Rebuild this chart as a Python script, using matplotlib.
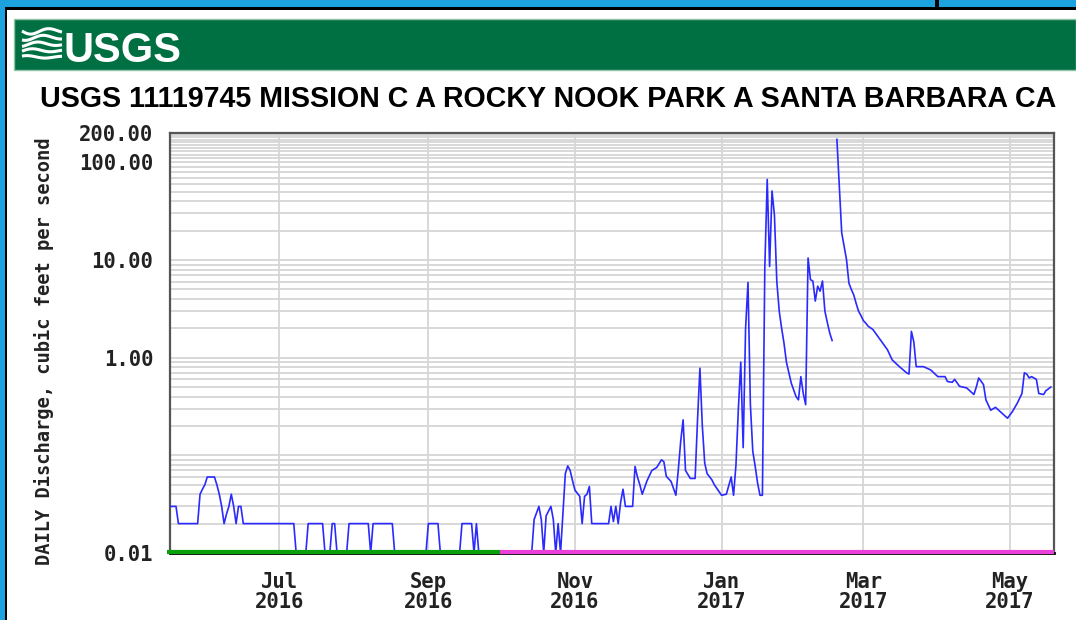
import numpy as np
import pandas as pd
import matplotlib
matplotlib.use('Agg')
import matplotlib.pyplot as plt
import matplotlib.dates as mdates
from matplotlib.ticker import FixedLocator, NullFormatter, FuncFormatter
from matplotlib.patches import Rectangle
from matplotlib.font_manager import FontProperties

# daily discharge (cfs) read off the hydrograph; 0.01 = no flow (plot floor)
wy2016_dates = ['2016-05-16', '2016-05-19', '2016-05-20', '2016-05-28', '2016-05-29', '2016-05-30', '2016-05-31',
                '2016-06-01', '2016-06-04', '2016-06-05', '2016-06-06', '2016-06-07', '2016-06-08', '2016-06-09',
                '2016-06-10', '2016-06-11', '2016-06-12', '2016-06-13', '2016-06-14', '2016-06-15', '2016-06-16',
                '2016-07-07', '2016-07-08', '2016-07-12', '2016-07-13', '2016-07-19', '2016-07-20', '2016-07-22',
                '2016-07-23', '2016-07-24', '2016-07-25', '2016-07-29', '2016-07-30',
                '2016-08-07', '2016-08-08', '2016-08-09', '2016-08-17', '2016-08-18', '2016-08-31',
                '2016-09-01', '2016-09-05', '2016-09-06', '2016-09-14', '2016-09-15', '2016-09-19', '2016-09-20',
                '2016-09-21', '2016-09-22', '2016-09-30']
wy2016_cfs = [0.03, 0.03, 0.02, 0.02, 0.04, 0.045, 0.05,
              0.06, 0.06, 0.05, 0.04, 0.03, 0.02, 0.025,
              0.03, 0.04, 0.03, 0.02, 0.03, 0.03, 0.02,
              0.02, 0.01, 0.01, 0.02, 0.02, 0.01, 0.01,
              0.02, 0.02, 0.01, 0.01, 0.02,
              0.02, 0.01, 0.02, 0.02, 0.01, 0.01,
              0.02, 0.02, 0.01, 0.01, 0.02, 0.02, 0.01,
              0.02, 0.01, 0.01]

wy2017_dates = ['2016-10-01', '2016-10-14', '2016-10-15', '2016-10-17', '2016-10-18', '2016-10-19', '2016-10-20',
                '2016-10-22', '2016-10-23', '2016-10-24', '2016-10-25', '2016-10-26', '2016-10-27', '2016-10-28',
                '2016-10-29', '2016-10-30', '2016-10-31',
                '2016-11-01', '2016-11-03', '2016-11-04', '2016-11-05', '2016-11-06', '2016-11-07', '2016-11-08',
                '2016-11-15', '2016-11-16', '2016-11-17', '2016-11-18', '2016-11-19', '2016-11-20', '2016-11-21',
                '2016-11-22', '2016-11-25', '2016-11-26', '2016-11-27', '2016-11-28', '2016-11-29',
                '2016-12-01', '2016-12-03', '2016-12-05', '2016-12-07', '2016-12-08', '2016-12-09', '2016-12-11',
                '2016-12-13', '2016-12-14', '2016-12-15', '2016-12-16', '2016-12-17', '2016-12-19', '2016-12-21',
                '2016-12-22', '2016-12-23', '2016-12-24', '2016-12-25', '2016-12-26', '2016-12-28', '2016-12-29',
                '2017-01-01', '2017-01-03', '2017-01-05', '2017-01-06', '2017-01-07', '2017-01-08', '2017-01-09',
                '2017-01-10', '2017-01-11', '2017-01-12', '2017-01-13', '2017-01-14', '2017-01-15', '2017-01-16',
                '2017-01-17', '2017-01-18', '2017-01-19', '2017-01-20', '2017-01-21', '2017-01-22', '2017-01-23',
                '2017-01-24', '2017-01-25', '2017-01-26', '2017-01-27', '2017-01-28', '2017-01-29', '2017-01-30',
                '2017-01-31',
                '2017-02-01', '2017-02-02', '2017-02-03', '2017-02-04', '2017-02-05', '2017-02-06', '2017-02-07',
                '2017-02-08', '2017-02-09', '2017-02-10', '2017-02-11', '2017-02-12', '2017-02-13', '2017-02-14',
                '2017-02-15', '2017-02-16', '2017-02-17', '2017-02-18', '2017-02-19', '2017-02-20', '2017-02-21',
                '2017-02-22', '2017-02-23', '2017-02-24', '2017-02-25', '2017-02-26', '2017-02-27', '2017-02-28',
                '2017-03-01', '2017-03-02', '2017-03-03', '2017-03-05', '2017-03-08', '2017-03-11', '2017-03-13',
                '2017-03-16', '2017-03-19', '2017-03-20', '2017-03-21', '2017-03-22', '2017-03-23', '2017-03-26',
                '2017-03-29',
                '2017-04-01', '2017-04-04', '2017-04-05', '2017-04-07', '2017-04-08', '2017-04-10', '2017-04-13',
                '2017-04-16', '2017-04-17', '2017-04-18', '2017-04-20', '2017-04-21', '2017-04-23', '2017-04-25',
                '2017-04-27', '2017-04-30',
                '2017-05-02', '2017-05-04', '2017-05-06', '2017-05-07', '2017-05-08', '2017-05-09', '2017-05-10',
                '2017-05-12', '2017-05-13', '2017-05-15', '2017-05-16', '2017-05-18']
wy2017_cfs = [0.01, 0.01, 0.022, 0.03, 0.022, 0.01, 0.024,
              0.03, 0.022, 0.01, 0.02, 0.01, 0.025, 0.065,
              0.078, 0.07, 0.055,
              0.044, 0.038, 0.02, 0.038, 0.04, 0.048, 0.02,
              0.02, 0.03, 0.021, 0.03, 0.02, 0.033, 0.045,
              0.03, 0.03, 0.077, 0.06, 0.05, 0.04,
              0.055, 0.07, 0.075, 0.09, 0.086, 0.061, 0.054,
              0.039, 0.071, 0.139, 0.231, 0.07, 0.058, 0.058,
              0.23, 0.78, 0.2, 0.083, 0.065, 0.056, 0.05,
              0.039, 0.04, 0.06, 0.039, 0.08, 0.3, 0.9,
              0.12, 2.0, 5.9, 0.33, 0.11, 0.077, 0.052,
              0.039, 0.039, 8.3, 67, 8.6, 51, 29,
              6.0, 3.0, 2.0, 1.4, 0.9, 0.7, 0.55,
              0.47,
              0.4, 0.37, 0.64, 0.43, 0.33, 10.5, 6.3,
              6.1, 3.8, 5.4, 4.8, 6.1, 3.0, 2.3,
              1.8, 1.5, np.nan, 172, 57, 19, 13.9,
              10.1, 5.8, 5.0, 4.4, 3.6, 3.0, 2.7,
              2.4, 2.26, 2.1, 1.94, 1.53, 1.21, 0.95,
              0.81, 0.7, 0.68, 1.86, 1.45, 0.81, 0.81,
              0.75,
              0.64, 0.64, 0.57, 0.56, 0.6, 0.51, 0.49,
              0.42, 0.5, 0.62, 0.53, 0.37, 0.29, 0.31,
              0.28, 0.24,
              0.28, 0.34, 0.43, 0.7, 0.68, 0.62, 0.64,
              0.6, 0.43, 0.42, 0.46, 0.5]

y_ticks = [0.01, 1, 10, 100, 200]
y_tick_labels = ['0.01', '1.00', '10.00', '100.00', '200.00']
wy_split = '2016-10-01'
x_start, x_end = '2016-05-16 12:00', '2017-05-19 08:00'
title = 'USGS 11119745 MISSION C A ROCKY NOOK PARK A SANTA BARBARA CA'

W, H = 1076, 620
fig = plt.figure(figsize=(W / 100, H / 100), dpi=100)
fig.patch.set_facecolor('white')

# background layer in pixel coords: frame, banner, title
bg = fig.add_axes([0, 0, 1, 1])
bg.set_xlim(0, W)
bg.set_ylim(H, 0)
bg.axis('off')
blue = '#1ca2de'
bg.add_patch(Rectangle((0, 0), W, 7, color=blue, lw=0))
bg.add_patch(Rectangle((0, 0), 5, H, color=blue, lw=0))
bg.add_patch(Rectangle((5, 7), W, 2.5, color='black', lw=0))
bg.add_patch(Rectangle((5, 7), 2, H, color='black', lw=0))
bg.add_patch(Rectangle((935, 0), 4, 9, color='black', lw=0))

green = '#006f41'
bg.add_patch(Rectangle((14, 19), W - 14, 51, facecolor=green, edgecolor='#8fc4a8', lw=1))
# wave logo
t = np.linspace(0, 1, 60)
for i in range(5):
    ys = 31 + i * 6.5 + (3.5 - 0.5 * i) * np.sin(2 * np.pi * (t * 1.1 + 0.15 * i)) * (1 - 0.5 * t)
    bg.plot(22 + 40 * t, ys, color='white', lw=2.2, solid_capstyle='butt')
bg.text(64, 62, 'USGS', color='white', fontsize=30, fontweight='bold',
        family=['Liberation Sans', 'DejaVu Sans'], ha='left', va='baseline')
bg.text(548, 107, title, color='black', fontsize=20.6, fontweight='bold',
        family=['Liberation Sans', 'DejaVu Sans'], ha='center', va='baseline')

# main hydrograph
ax = fig.add_axes([170 / W, 1 - 553 / H, (1054 - 170) / W, (553 - 133) / H])
dates = pd.to_datetime(wy2016_dates + wy2017_dates)
flow = np.array(wy2016_cfs + wy2017_cfs, float)
ax.plot(dates, flow, color='#2a2aff', lw=1.2, zorder=3)

ax.set_yscale('log')
ax.set_ylim(0.01, 200)
ax.set_xlim(pd.Timestamp(x_start), pd.Timestamp(x_end))

minor = [k * 10.0 ** e for e in range(-2, 2) for k in range(2, 10)] + [0.1] + list(range(110, 200, 10))
ax.yaxis.set_major_locator(FixedLocator(y_ticks))
ax.yaxis.set_minor_locator(FixedLocator(minor))
ax.yaxis.set_minor_formatter(NullFormatter())
ax.yaxis.set_major_formatter(FuncFormatter(lambda v, p: y_tick_labels[y_ticks.index(v)] if v in y_ticks else ''))
ax.xaxis.set_major_locator(mdates.MonthLocator(bymonth=[1, 3, 5, 7, 9, 11]))
ax.xaxis.set_major_formatter(mdates.DateFormatter('%b\n%Y'))

ax.grid(True, which='both', axis='y', color='#d6d6d6', lw=1.3)
ax.grid(True, which='major', axis='x', color='#d6d6d6', lw=1.3)
ax.set_axisbelow(True)

tick_font = FontProperties(family='DejaVu Sans Mono', weight='bold', size=14.8)
ax.tick_params(which='both', length=0, colors='#222222')
ax.tick_params(axis='y', pad=12)
ax.tick_params(axis='x', pad=14)
for lab in ax.get_yticklabels() + ax.get_xticklabels():
    lab.set_fontproperties(tick_font)
    lab.set_linespacing(0.95)
ax.set_ylabel('DAILY Discharge, cubic feet per second', family='DejaVu Sans Mono',
              weight='bold', size=13.5, color='#222222')
ax.yaxis.set_label_coords(-(170 - 54) / (1054 - 170), 0.48)

for side in ['left', 'top', 'right']:
    ax.spines[side].set_color('#555555')
    ax.spines[side].set_linewidth(1.6)
ax.spines['bottom'].set_color('black')
ax.spines['bottom'].set_linewidth(2)

# water-year bars along the bottom
split = pd.Timestamp(wy_split)
ax.plot([pd.Timestamp(x_start) - pd.Timedelta(days=1.2), split], [0.0103, 0.0103], color='#0aa00a', lw=3,
        solid_capstyle='butt', clip_on=False, zorder=5)
ax.plot([split, pd.Timestamp(x_end)], [0.0103, 0.0103], color='#ea3fd8', lw=3,
        solid_capstyle='butt', clip_on=False, zorder=5)

fig.savefig('out.png', dpi=100)
